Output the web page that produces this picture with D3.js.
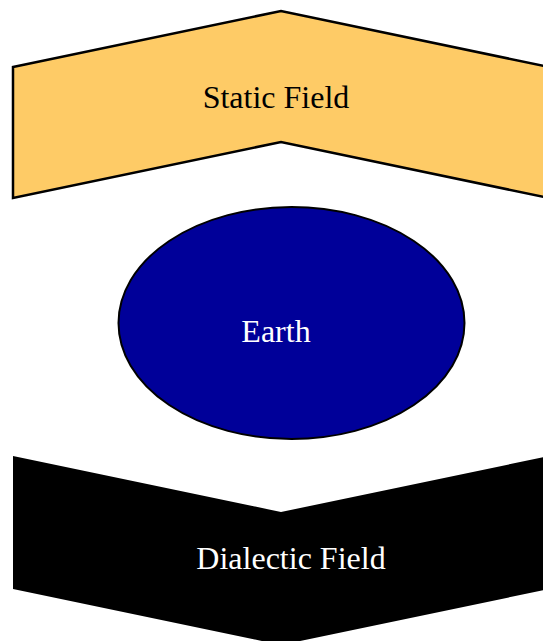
<!DOCTYPE html>
<html>
<head>
<meta charset="utf-8">
<script src="https://cdn.jsdelivr.net/npm/d3@7"></script>
<style>
  body { margin: 0; background: #fff; }
</style>
</head>
<body>
<div id="my_chart"></div>
<script>
// diagram content
const labels = ["Static Field", "Earth", "Dialectic Field"];
const kinds = ["chevronUp", "ellipse", "chevronDown"];

const width = 543, height = 641;

const svg = d3.select("#my_chart")
    .append("svg")
    .attr("width", width)
    .attr("height", height);

// horizontal extent of the shapes (right side runs past the window)
const x = d3.scaleLinear().domain([0, 1]).range([13, 549]);
// vertical slot for each row
const y = d3.scaleOrdinal().domain(kinds).range([67, 323, 456]);

const bandH = 131, notch = 56;

const fill = { chevronUp: "#fecb66", ellipse: "#000099", chevronDown: "#000000" };
const textFill = { chevronUp: "#000", ellipse: "#fff", chevronDown: "#fff" };
const textX = { chevronUp: 276, ellipse: 276, chevronDown: 291 };
const textY = { chevronUp: 108, ellipse: 342, chevronDown: 569 };

const line = d3.line();

kinds.forEach((k, i) => {
    const top = y(k);
    if (k === "chevronUp") {
        svg.append("path")
            .attr("d", line([
                [x(0), top], [x(0.5), top - notch], [x(1), top],
                [x(1), top + bandH], [x(0.5), top + bandH - notch], [x(0), top + bandH]
            ]) + "Z")
            .attr("fill", fill[k])
            .attr("stroke", "#000")
            .attr("stroke-width", 2.5);
    } else if (k === "chevronDown") {
        svg.append("path")
            .attr("d", line([
                [x(0), top], [x(0.5), top + notch], [x(1), top],
                [x(1), top + bandH + 2], [x(0.5), top + bandH + 2 + notch], [x(0), top + bandH + 2]
            ]) + "Z")
            .attr("fill", fill[k]);
    } else {
        svg.append("ellipse")
            .attr("cx", 291.5)
            .attr("cy", top)
            .attr("rx", 173)
            .attr("ry", 116)
            .attr("fill", fill[k])
            .attr("stroke", "#000")
            .attr("stroke-width", 2);
    }

    svg.append("text")
        .attr("x", textX[k])
        .attr("y", textY[k])
        .attr("text-anchor", "middle")
        .attr("font-family", "'Liberation Serif', 'Times New Roman', serif")
        .attr("font-size", 32)
        .attr("fill", textFill[k])
        .text(labels[i]);
});
</script>
</body>
</html>
